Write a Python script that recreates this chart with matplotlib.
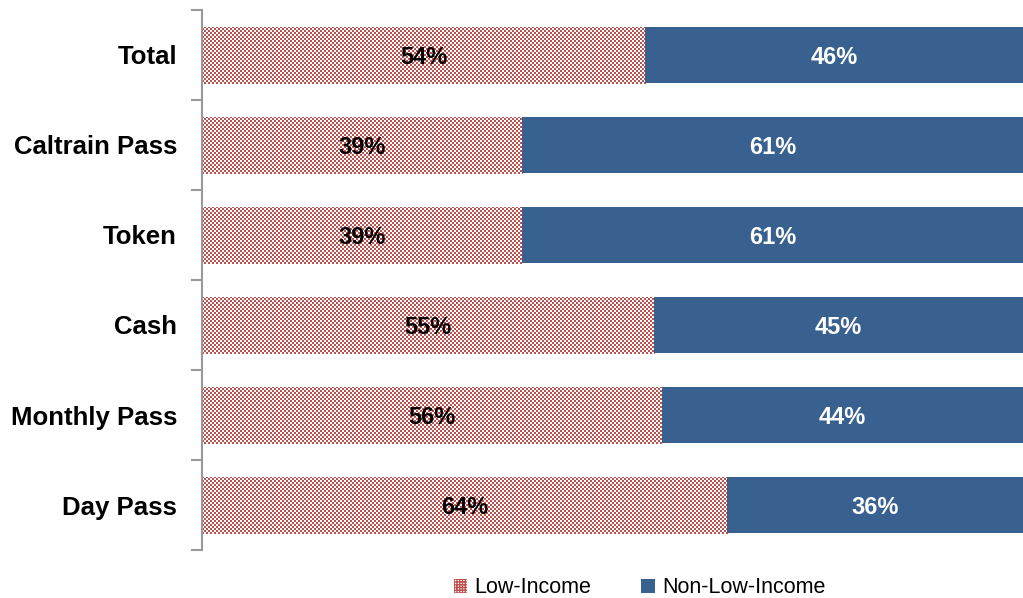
import numpy as np
import matplotlib.pyplot as plt
from matplotlib.colors import to_rgb
from matplotlib.patches import Patch

categories = ['Total', 'Caltrain Pass', 'Token', 'Cash', 'Monthly Pass', 'Day Pass']
low_income = [54, 39, 39, 55, 56, 64]
non_low_income = [46, 61, 61, 45, 44, 36]

red = '#c0504d'
blue = '#386190'

plt.rcParams['font.family'] = ['Liberation Sans', 'DejaVu Sans']
plt.rcParams['hatch.linewidth'] = 1.0
plt.rcParams['hatch.color'] = red

W, H = 1023, 598
ax_l, ax_b, ax_w, ax_h = 202, 48, 821, 540

fig = plt.figure(figsize=(W / 100, H / 100), dpi=100)
ax = fig.add_axes([ax_l / W, ax_b / H, ax_w / W, ax_h / H])
ax.patch.set_alpha(0)

y = np.arange(len(categories))
low = np.array(low_income)
high = np.array(non_low_income)

b1 = ax.barh(y, low, height=0.62, color='none', linewidth=0)
b2 = ax.barh(y, high, left=low, height=0.62, color=blue, linewidth=0)

ax.set_xlim(0, 100)
ax.set_ylim(len(categories) - 0.5, -0.5)

# 2px checkerboard behind the axes, shown only through the low-income bars
ii, jj = np.indices((ax_h, ax_w))
checker = np.ones((ax_h, ax_w, 3))
checker[(ii // 2 + jj // 2) % 2 == 1] = to_rgb(red)
for bar in b1:
    im = fig.figimage(checker, xo=ax_l, yo=ax_b, zorder=-1)
    im.set_clip_path(bar)

for i in range(len(categories)):
    ax.text(low[i] / 2, y[i], f'{low[i]}%', ha='center', va='center_baseline',
            fontsize=17, fontweight='bold', color='black', zorder=3)
    ax.text(low[i] + high[i] / 2, y[i], f'{high[i]}%', ha='center', va='center_baseline',
            fontsize=17, fontweight='bold', color='white', zorder=3)

ax.set_xticks([])

# boundary ticks on the spine, labels between them
ax.set_yticks(np.arange(-0.5, len(categories), 1.0))
ax.set_yticklabels([])
ax.tick_params(axis='y', which='major', length=8, width=1.5, color='#999999')
ax.set_yticks(y, minor=True)
ax.set_yticklabels(categories, minor=True, fontsize=18.5, fontweight='bold')
ax.tick_params(axis='y', which='minor', length=0, pad=18)

for s in ['top', 'right', 'bottom']:
    ax.spines[s].set_visible(False)
ax.spines['left'].set_color('#999999')
ax.spines['left'].set_linewidth(1.5)

handles = [Patch(facecolor='white', edgecolor=red, hatch='++++++', linewidth=0, label='Low-Income'),
           Patch(facecolor=blue, linewidth=0, label='Non-Low-Income')]
fig.legend(handles=handles, loc='lower center', bbox_to_anchor=(0.625, -0.033),
           ncol=2, frameon=False, fontsize=15.5, handlelength=0.65, handleheight=0.65,
           handletextpad=0.3, columnspacing=2.35)

fig.savefig('out.png', dpi=100)
